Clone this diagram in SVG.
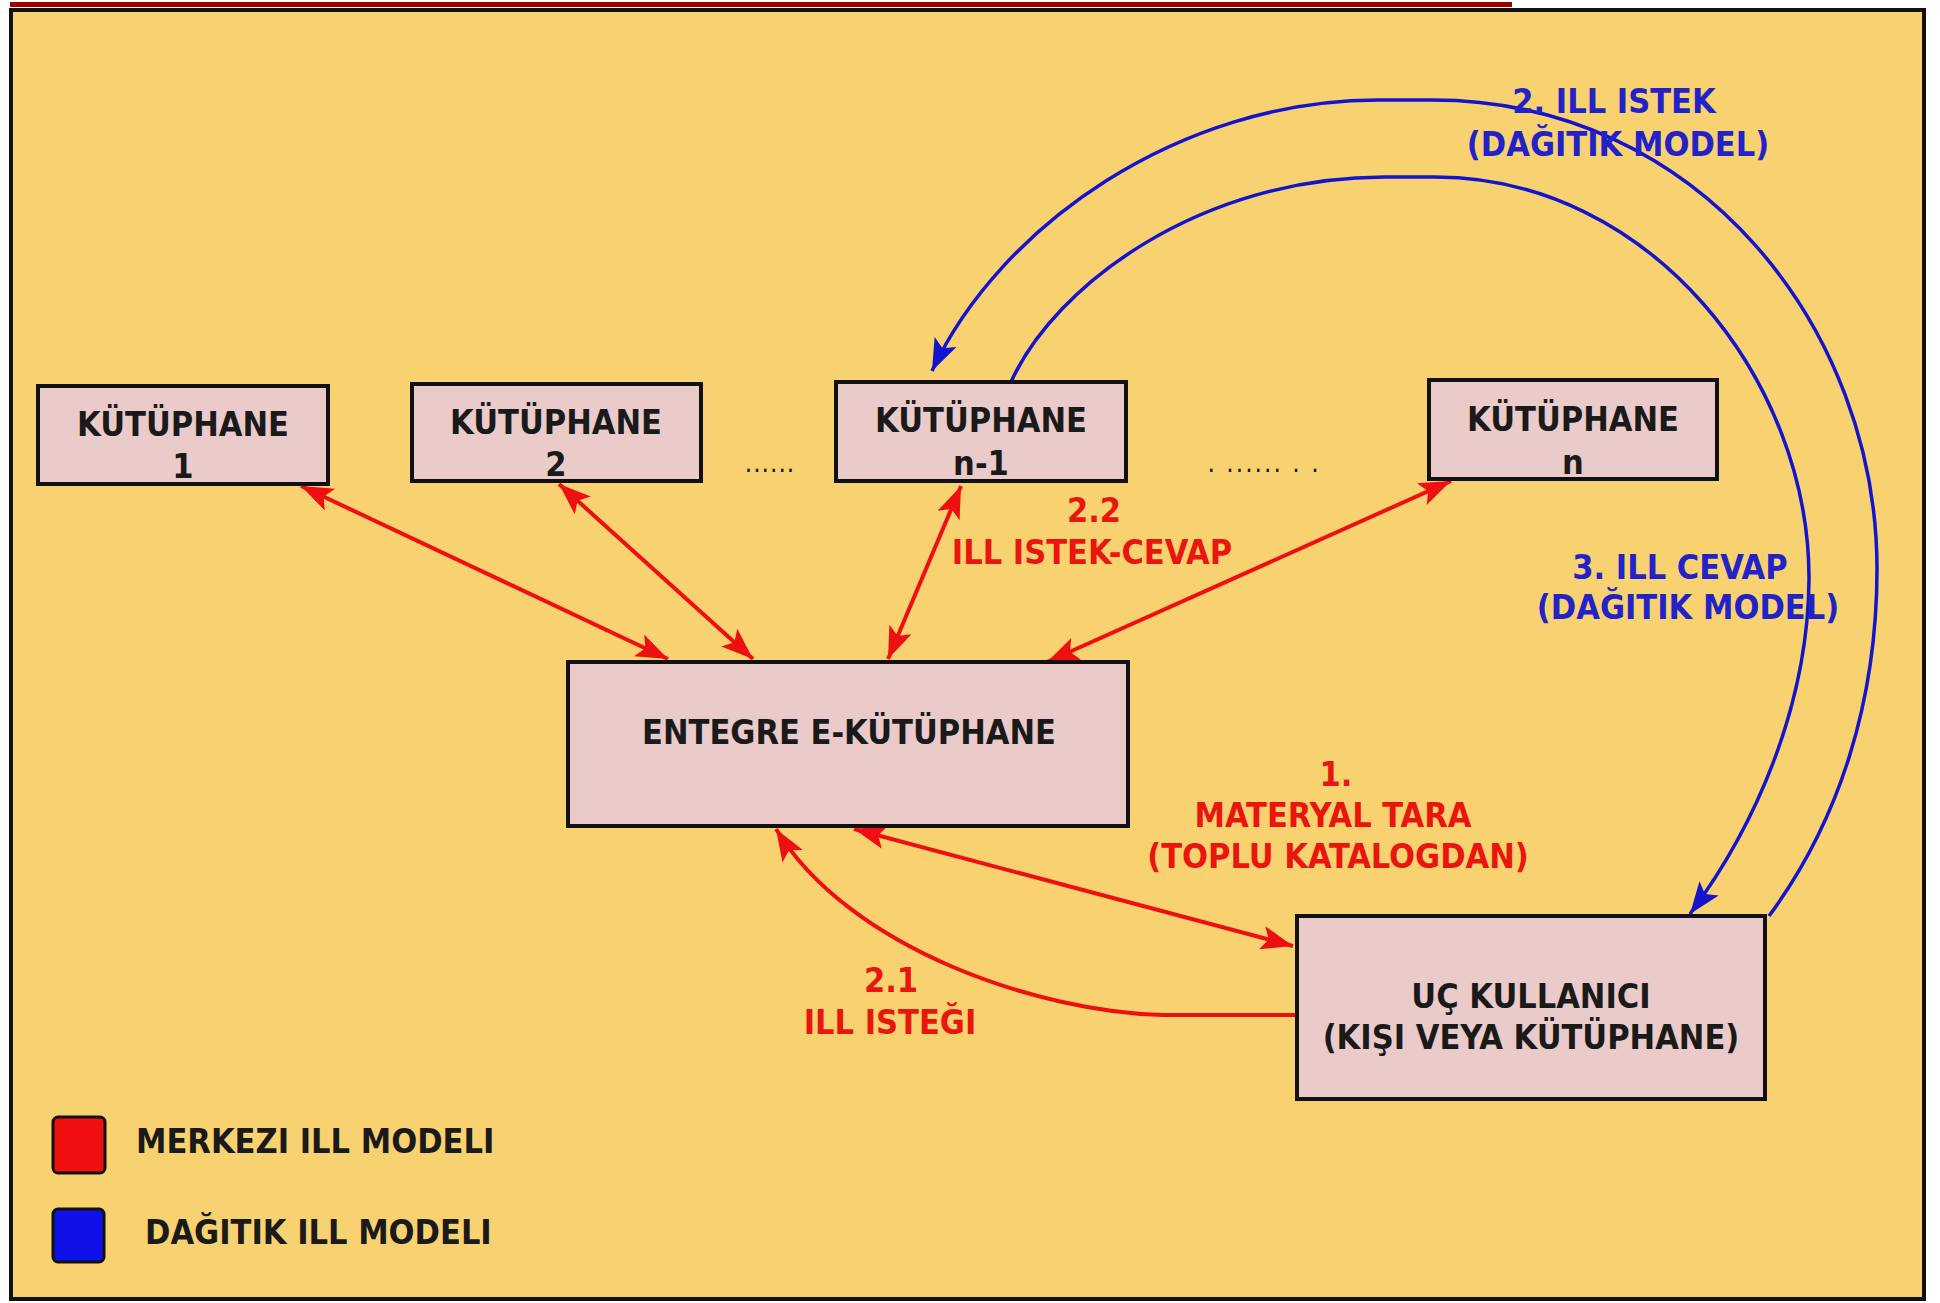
<svg xmlns="http://www.w3.org/2000/svg" width="1940" height="1303" viewBox="0 0 1940 1303">
<style>
.box{fill:#EBCACA;stroke:#111;stroke-width:4}
.t{font-family:"DejaVu Sans Condensed","DejaVu Sans",sans-serif;font-stretch:condensed;font-weight:bold;font-size:34px;text-anchor:middle;fill:#1a1a1a}
.r{fill:#E8160E;font-size:34px}
.b{fill:#2222C8;font-size:34px}
.red{stroke:#EE1010;stroke-width:4;fill:none}
.blue{stroke:#1414CC;stroke-width:3.5;fill:none}
</style>
<defs>
<marker id="ar" markerUnits="userSpaceOnUse" markerWidth="34" markerHeight="26" refX="32" refY="12" orient="auto-start-reverse">
<path d="M0,0 L32,12 L0,24 L7,12 z" fill="#EE1010"/>
</marker>
<marker id="ab" markerUnits="userSpaceOnUse" markerWidth="34" markerHeight="26" refX="32" refY="12" orient="auto">
<path d="M0,0 L32,12 L0,24 L7,12 z" fill="#1414CC"/>
</marker>
</defs>
<rect x="0" y="0" width="1940" height="1303" fill="#fff"/>
<rect x="10" y="2" width="1502" height="5" fill="#A00000"/>
<rect x="11" y="10" width="1913" height="1289" fill="#F8D270" stroke="#111" stroke-width="4"/>

<g id="connectors">
<line class="red" x1="301" y1="486" x2="668" y2="659" marker-start="url(#ar)" marker-end="url(#ar)"/>
<line class="red" x1="559" y1="484" x2="753" y2="659" marker-start="url(#ar)" marker-end="url(#ar)"/>
<line class="red" x1="961" y1="486" x2="888" y2="659" marker-start="url(#ar)" marker-end="url(#ar)"/>
<line class="red" x1="1451" y1="481" x2="1047" y2="662" marker-start="url(#ar)" marker-end="url(#ar)"/>
<line class="red" x1="854" y1="829" x2="1293" y2="946" marker-start="url(#ar)" marker-end="url(#ar)"/>
<path class="red" d="M1297,1015 L1163,1015 C1040,1012 850,950 776,829" marker-end="url(#ar)"/>
<path class="blue" d="M1769,916 C1840,820 1877,700 1877,569 C1877,330 1700,100 1432,100 L1378,100 C1180,100 1000,225 932,371" marker-end="url(#ab)"/>
<path class="blue" d="M1011,382 C1055,285 1200,177 1385,177 L1435,177 C1650,177 1810,380 1809,580 C1808,700 1760,820 1690,914" marker-end="url(#ab)"/>
</g>

<g id="k1"><rect class="box" x="38" y="386" width="290" height="98"/><text class="t" x="183" y="436">KÜTÜPHANE</text><text class="t" x="183" y="478">1</text></g>
<g id="k2"><rect class="box" x="412" y="384" width="289" height="97"/><text class="t" x="556" y="434">KÜTÜPHANE</text><text class="t" x="556" y="476">2</text></g>
<g id="kn1"><rect class="box" x="836" y="382" width="290" height="99"/><text class="t" x="981" y="432">KÜTÜPHANE</text><text class="t" x="981" y="475">n-1</text></g>
<g id="kn"><rect class="box" x="1429" y="380" width="288" height="99"/><text class="t" x="1573" y="431">KÜTÜPHANE</text><text class="t" x="1573" y="474">n</text></g>
<g id="dots1"><text class="t" x="770" y="472" style="font-size:26px;font-weight:normal;letter-spacing:1px">......</text></g>
<g id="dots2"><text class="t" x="1264" y="472" style="font-size:26px;font-weight:normal;letter-spacing:2px">.  ......  .  .</text></g>
<g id="entegre"><rect class="box" x="568" y="662" width="560" height="164"/><text class="t" x="849" y="744">ENTEGRE E-KÜTÜPHANE</text></g>
<g id="uc"><rect class="box" x="1297" y="916" width="468" height="183"/><text class="t" x="1531" y="1008">UÇ KULLANICI</text><text class="t" x="1531" y="1049">(KIŞI VEYA KÜTÜPHANE)</text></g>

<g id="labels">
<text class="t r" x="1094" y="522">2.2</text>
<text class="t r" x="1092" y="564">ILL ISTEK-CEVAP</text>
<text class="t r" x="1336" y="786">1.</text>
<text class="t r" x="1333" y="827">MATERYAL TARA</text>
<text class="t r" x="1338" y="868">(TOPLU KATALOGDAN)</text>
<text class="t r" x="891" y="992">2.1</text>
<text class="t r" x="890" y="1034">ILL ISTEĞI</text>
<text class="t b" x="1614" y="113">2. ILL ISTEK</text>
<text class="t b" x="1618" y="156">(DAĞITIK MODEL)</text>
<text class="t b" x="1680" y="579">3. ILL CEVAP</text>
<text class="t b" x="1688" y="619">(DAĞITIK MODEL)</text>
</g>

<g id="legend">
<rect x="53" y="1117" width="52" height="56" rx="5" fill="#F01010" stroke="#111" stroke-width="3"/>
<rect x="53" y="1209" width="51" height="53" rx="5" fill="#1010E8" stroke="#111" stroke-width="3"/>
<text class="t" x="136" y="1153" style="text-anchor:start;font-size:34px">MERKEZI ILL MODELI</text>
<text class="t" x="145" y="1244" style="text-anchor:start;font-size:34px">DAĞITIK ILL MODELI</text>
</g>
</svg>
